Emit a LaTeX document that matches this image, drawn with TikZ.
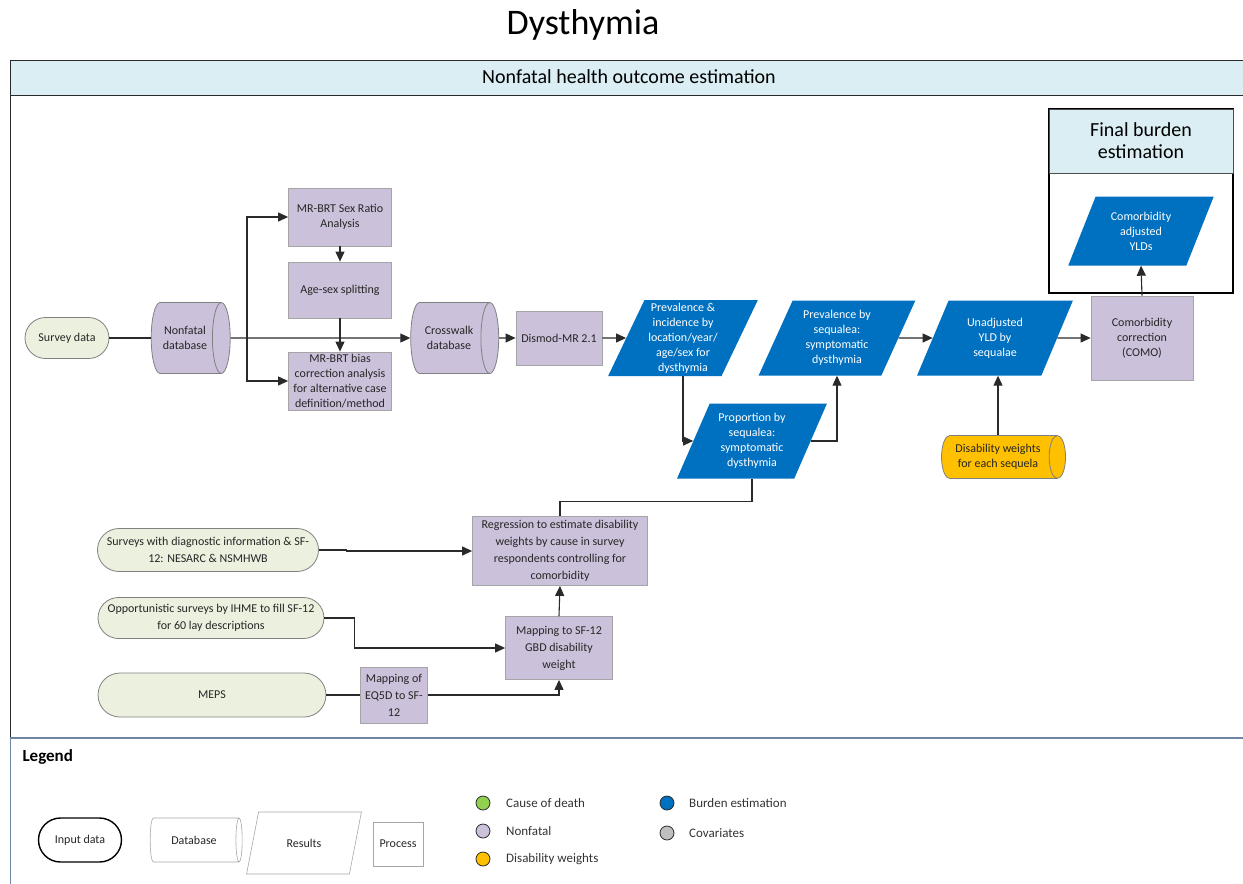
\documentclass[tikz,border=0pt]{standalone}
\usepackage{fontspec}
\setmainfont{Carlito}
\usetikzlibrary{shapes.geometric,shapes.misc,arrows.meta,calc}
\definecolor{lav}{HTML}{CCC1DA}
\definecolor{lavb}{HTML}{A5A5A5}
\definecolor{grn}{HTML}{EBF1DE}
\definecolor{blu}{HTML}{0070C0}
\definecolor{yel}{HTML}{FFC000}
\definecolor{hdr}{HTML}{DAEEF3}
\definecolor{ln}{HTML}{2A2A2A}
\definecolor{lgline}{HTML}{6F86A3}
\definecolor{ccgreen}{HTML}{92D050}
\definecolor{ccgray}{HTML}{BFBFBF}
\tikzset{
 base/.style={align=center, font=\fontsize{12}{15}\selectfont, inner sep=1pt, text=black!85},
 proc/.style={base, rectangle, draw=lavb, fill=lav, line width=0.8pt},
 res/.style={base, trapezium, trapezium left angle=65, trapezium right angle=115, trapezium stretches=true, fill=blu, text=white},
 inp/.style={base, rounded rectangle, draw=gray, fill=grn, line width=0.8pt},
 dbs/.style={base, cylinder, draw=gray, fill=lav, line width=0.8pt, aspect=0.7},
 conn/.style={draw=ln, line width=1.1pt},
 arr/.style={conn, -{Triangle[length=10pt,width=9pt]}},
 legc/.style={circle, draw=ln, line width=0.8pt, minimum size=14pt, inner sep=0pt},
 legt/.style={anchor=west, font=\fontsize{13}{15}\selectfont, text=black!80, inner sep=0pt},
}
\begin{document}
\begin{tikzpicture}[x=1pt,y=-1pt]
\useasboundingbox (0,0) rectangle (1243,884);
\clip (0,0) rectangle (1243,884);
% title
\node[font=\fontsize{36}{40}\selectfont] (title) at (583,25) {Dysthymia};
% main frame
\draw[ln, line width=1pt] (10,60) rectangle (1260,737);
\draw[ln, line width=1pt, fill=hdr] (10,60) rectangle (1260,95);
\node[font=\fontsize{20}{22}\selectfont] (hdrtxt) at (629,77) {Nonfatal health outcome estimation};
% final burden box
\draw[black, line width=1.2pt, fill=white] (1049,109) rectangle (1233,293);
\draw[black!70, line width=1pt, fill=hdr] (1049,109) rectangle (1233,173);
\node[align=center, font=\fontsize{20}{22}\selectfont] (fbtxt) at (1141,141) {Final burden\\estimation};

% nodes upper
\node[inp, minimum width=86pt, minimum height=41pt] (surv) at (67,338) {Survey data};
\node[dbs, minimum height=79pt, minimum width=71pt] (ndb) at (185,338) {Nonfatal\\database};
\node[proc, minimum width=103pt, minimum height=58pt] (sexr) at (340,217) {MR-BRT Sex Ratio\\Analysis};
\node[proc, minimum width=103pt, minimum height=56pt] (agesex) at (340,290) {Age-sex splitting};
\node[proc, minimum width=103pt, minimum height=58pt] (bias) at (340,381) {MR-BRT bias\\correction analysis\\for alternative case\\definition/method};
\node[dbs, minimum height=88pt, minimum width=71pt] (xw) at (449,338) {Crosswalk\\database};
\node[proc, minimum width=86pt, minimum height=54pt] (dismod) at (559,338) {Dismod-MR 2.1};
\node[res, minimum width=150pt, minimum height=76pt] (previnc) at (683,338) {Prevalence \&\\incidence by\\location/year/\\age/sex for\\dysthymia};
\node[res, minimum width=150pt, minimum height=75pt] (prop) at (752,441) {Proportion by\\sequalea:\\symptomatic\\dysthymia};
\node[res, minimum width=157pt, minimum height=75pt] (prevseq) at (837,338) {Prevalence by\\sequalea:\\symptomatic\\dysthymia};
\node[res, minimum width=157pt, minimum height=75pt] (unadj) at (995,338) {Unadjusted\\YLD by\\sequalae};
\node[proc, minimum width=102pt, minimum height=84pt] (como) at (1142,338) {Comorbidity\\correction\\(COMO)};
\node[res, minimum width=147pt, minimum height=69pt] (cadj) at (1141,231) {Comorbidity\\adjusted\\YLDs};
\node[dbs, fill=yel, minimum height=124pt, minimum width=43pt, aspect=0.6] (dw) at (998,457) {Disability weights\\for each sequela};

% nodes lower
\node[inp, minimum width=223pt, minimum height=43pt, font=\fontsize{12}{17}\selectfont] (s1) at (208,550) {Surveys with diagnostic information \& SF-\\12: NESARC \& NSMHWB};
\node[inp, minimum width=228pt, minimum height=41pt, font=\fontsize{12}{17}\selectfont] (s2) at (211,618) {Opportunistic surveys by IHME to fill SF-12\\for 60 lay descriptions};
\node[inp, minimum width=230pt, minimum height=44pt] (s3) at (212,695) {MEPS};
\node[proc, minimum width=67pt, minimum height=56pt, font=\fontsize{12}{17}\selectfont] (eq5d) at (394,695) {Mapping of\\EQ5D to SF-\\12};
\node[proc, minimum width=107pt, minimum height=63pt, font=\fontsize{12}{17}\selectfont] (map) at (559,648) {Mapping to SF-12\\GBD disability\\weight};
\node[proc, minimum width=175pt, minimum height=69pt, font=\fontsize{12}{17}\selectfont] (regr) at (560,551) {Regression to estimate disability\\weights by cause in survey\\respondents controlling for\\comorbidity};

% connectors
\coordinate (br) at (247,338);
\draw[conn] (surv.east) -- (ndb.west);
\draw[arr] (ndb.east) -- (xw.west);
\draw[arr] (br) |- (sexr.west);
\draw[arr] (br) |- (bias.west);
\draw[arr] (sexr.south) -- (agesex.north);
\draw[arr] (agesex.south) -- (bias.north);
\draw[arr] (xw.east) -- (dismod.west);
\draw[arr] (dismod.east) -- (previnc.west);
\draw[arr] (previnc.south) |- (prop.west);
\draw[arr] (prop.east) -| (prevseq.south);
\draw[arr] (prevseq.east) -- (unadj.west);
\draw[arr] (unadj.east) -- (como.west);
\draw[arr] (como.north) -- (cadj.south);
\draw[arr] (dw.north) -- (dw.north |- unadj.south);
\draw[conn] (regr.north) -- ++(0,-15) -| (prop.south);
\draw[arr] (s1.east) -- ++(28,0) |- (regr.west);
\draw[arr] (s2.east) -- ++(30,0) |- (map.west);
\draw[conn] (s3.east) -- (eq5d.west);
\draw[arr] (eq5d.east) -| (map.south);
\draw[arr] (map.north) -- (regr.south);

% legend
\draw[lgline, line width=1.5pt] (10,738) -- (1260,738);
\draw[lgline, line width=0.8pt] (10,738) -- (10,900);
\node[anchor=west, font=\bfseries\fontsize{17}{19}\selectfont] (legtitle) at (19,757) {Legend};
\node[base, rounded rectangle, draw=black, line width=1.4pt, fill=white, minimum width=85pt, minimum height=44pt] (lin) at (80,840) {Input data};
\node[base, cylinder, draw=gray!70, line width=0.6pt, aspect=0.6, minimum height=92pt, minimum width=44pt] (ldb) at (194,840) {Database};
\node[base, trapezium, trapezium left angle=65, trapezium right angle=115, trapezium stretches=true, draw=gray!70, line width=0.6pt, minimum width=115pt, minimum height=62pt] (lres) at (304,843) {Results};
\node[base, rectangle, draw=gray!70, line width=0.6pt, minimum width=50pt, minimum height=44pt] (lproc) at (398,844) {Process};
\node[legc, fill=ccgreen] (c1) at (483,803) {};
\node[legt] (t1) at (506,803) {Cause of death};
\node[legc, fill=lav] (c2) at (483,831) {};
\node[legt] (t2) at (506,831) {Nonfatal};
\node[legc, fill=yel] (c3) at (483,859) {};
\node[legt] (t3) at (506,859) {Disability weights};
\node[legc, fill=blu] (c4) at (667,803) {};
\node[legt] (t4) at (689,803) {Burden estimation};
\node[legc, fill=ccgray] (c5) at (667,833) {};
\node[legt] (t5) at (689,833) {Covariates};
\end{tikzpicture}
\end{document}
